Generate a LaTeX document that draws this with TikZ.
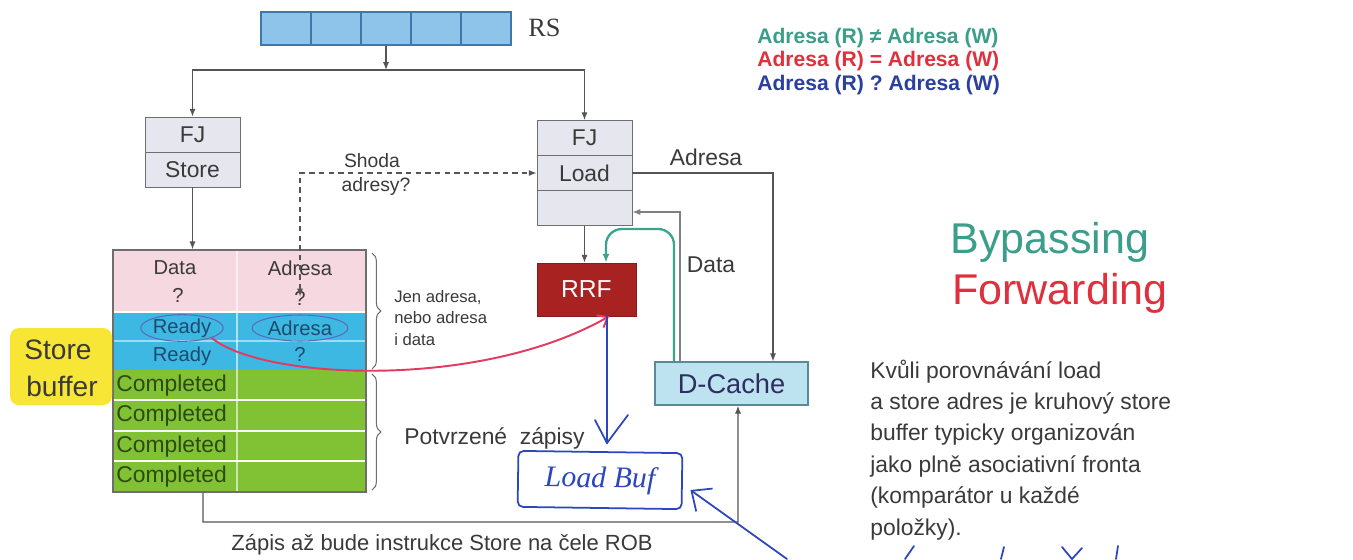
\documentclass[tikz,border=0pt]{standalone}
\usepackage{fontspec}
\setmainfont{Liberation Sans}
\newfontfamily\seriffont{Liberation Serif}
\usetikzlibrary{arrows.meta,decorations.pathreplacing,calc,shapes.geometric}
\definecolor{rsfill}{HTML}{8EC3EA}
\definecolor{rsline}{HTML}{3F78A8}
\definecolor{boxline}{HTML}{6E6E6E}
\definecolor{fjfill}{HTML}{E6E6EF}
\definecolor{darktext}{HTML}{3A3A3A}
\definecolor{pinkc}{HTML}{F6D8E0}
\definecolor{bluec}{HTML}{3DB8E2}
\definecolor{greenc}{HTML}{80C234}
\definecolor{greentext}{HTML}{2E4A12}
\definecolor{bluetext}{HTML}{1E4A6E}
\definecolor{ellc}{HTML}{5C6BB8}
\definecolor{rrffill}{HTML}{A82222}
\definecolor{dcfill}{HTML}{BEE3F0}
\definecolor{dcline}{HTML}{5A8A99}
\definecolor{tealc}{HTML}{3AA58A}
\definecolor{redc}{HTML}{E43A60}
\definecolor{handc}{HTML}{2C46BE}
\definecolor{legteal}{HTML}{3A9E8A}
\definecolor{legred}{HTML}{E0303E}
\definecolor{legblue}{HTML}{2A3FA0}
\definecolor{yellowc}{HTML}{F8E636}
\definecolor{connc}{HTML}{555555}
\tikzset{
  fjbox/.style={draw=boxline, fill=fjfill, minimum width=1.9cm, minimum height=0.7cm, inner sep=0pt, text=darktext, font=\fontsize{13}{15}\selectfont},
  conn/.style={draw=connc, line width=0.7pt, -{Latex[length=4.5pt,width=3.5pt]}},
  sbtext/.style={inner sep=0pt, text=darktext, font=\fontsize{11.5}{13}\selectfont},
  bluet/.style={inner sep=0pt, text=bluetext, font=\fontsize{11.5}{13}\selectfont},
  compl/.style={inner sep=0pt, anchor=west, text=greentext, font=\fontsize{13}{15}\selectfont},
  lbl/.style={inner sep=0pt, text=darktext, font=\fontsize{13}{15}\selectfont},
  legend/.style={inner sep=0pt, anchor=west, font=\bfseries\fontsize{12}{14}\selectfont},
  para/.style={inner sep=0pt, anchor=base west, text=darktext, font=\fontsize{13}{15}\selectfont},
  hand/.style={draw=handc, line width=1pt, line cap=round},
  bracestyle/.style={draw=boxline, line width=0.6pt, decorate, decoration={brace, amplitude=5pt}}
}
\begin{document}
\begin{tikzpicture}[x=0.02cm, y=-0.02cm]
\fill[white] (0,0) rectangle (1353,559);
\useasboundingbox (0,0) rectangle (1353,559);

% RS
\node[draw=rsline, fill=rsfill, minimum width=5.0cm, minimum height=0.66cm, inner sep=0pt, line width=0.8pt] (rs) at (386,28.5) {};
\foreach \x in {311,361,411,461} \draw[rsline, line width=0.8pt] (\x,12) -- (\x,45);
\node[inner sep=0pt, anchor=west, text=darktext, font=\seriffont\fontsize{15}{15}\selectfont] (rslab) at (528,28) {RS};

% FJ boxes
\node[fjbox] (fjs1) at (192.5,134.5) {FJ};
\node[fjbox] (fjs2) at (192.5,169.5) {Store};
\node[fjbox] (fjl1) at (584.5,138) {FJ};
\node[fjbox] (fjl2) at (584.5,173) {Load};
\node[fjbox] (fjl3) at (584.5,208) {};

\coordinate (split) at (386,70);
\draw[conn] (rs.south) -- (split);
\draw[conn] (split) -| (fjs1.north);
\draw[conn] (split) -| (fjl1.north);

% Store buffer
\fill[pinkc] (113,250) rectangle (366,312);
\fill[bluec] (113,312) rectangle (366,370);
\fill[greenc] (113,370) rectangle (366,492);
\foreach \y in {312,400,431,461} \draw[white, line width=1pt] (114,\y) -- (365,\y);
\draw[white, opacity=0.5, line width=0.6pt] (114,341) -- (365,341);
\draw[white, opacity=0.6, line width=0.6pt] (237,251) -- (237,491);
\node[draw=boxline, line width=0.8pt, minimum width=5.06cm, minimum height=4.84cm, inner sep=0pt] (sb) at (239.5,371) {};
\draw[conn] (fjs2.south) -- (fjs2.south |- sb.north);

\node[sbtext] (hdata) at (175,268) {Data};
\node[sbtext] (hadr) at (300,268) {Adresa};
\node[sbtext] (q1) at (178,295) {?};
\node[sbtext] (q2) at (300,298) {?};
\node[bluet, draw=ellc, ellipse, line width=0.6pt, minimum width=1.5cm, minimum height=0.46cm] (r1) at (182,328) {Ready};
\node[bluet, draw=ellc, ellipse, line width=0.6pt, minimum width=1.92cm, minimum height=0.52cm] (a2) at (300,328) {Adresa};
\node[bluet] (r2) at (182,356) {Ready};
\node[bluet] (q3) at (300,354) {?};
\node[compl] (c1) at (116,386) {Completed};
\node[compl] (c2) at (116,416) {Completed};
\node[compl] (c3) at (116,447) {Completed};
\node[compl] (c4) at (116,477) {Completed};

% dashed address compare
\draw[draw=connc, line width=0.7pt, dash pattern=on 3pt off 2.5pt, {Latex[length=4.5pt,width=3.5pt]}-{Latex[length=4.5pt,width=3.5pt]}] ([yshift=-0.12cm]q2.north) |- (fjl2.west);
\node[inner sep=0pt, text=darktext, font=\fontsize{11}{13}\selectfont] (shoda) at (372,161) {Shoda};
\node[inner sep=0pt, text=darktext, font=\fontsize{11}{13}\selectfont] (adresy) at (376,186) {adresy?};

% braces
\draw[bracestyle] (372,253) -- (372,369);
\draw[bracestyle] (372,374) -- (372,490);
\node[inner sep=0pt, anchor=west, align=left, text=darktext, font=\fontsize{9.5}{12}\selectfont] (jen) at (394,318) {Jen adresa,\\nebo adresa\\i data};
\node[inner sep=0pt, anchor=west, text=darktext, font=\fontsize{13}{15}\selectfont] (potv) at (404,438) {Potvrzené\ \ zápisy};

% RRF and D-Cache
\node[fill=rrffill, draw=rrffill!80!black, minimum width=1.98cm, minimum height=1.06cm, inner sep=0pt, text=white!90!pink, font=\fontsize{14}{16}\selectfont] (rrf) at (586.5,289.5) {RRF};
\node[draw=dcline, fill=dcfill, line width=0.8pt, minimum width=3.06cm, minimum height=0.86cm, inner sep=0pt, text=darktext!80!blue, font=\fontsize{15.5}{17}\selectfont] (dc) at (731.5,383.5) {D-Cache};

\draw[conn] (fjl3.south) -- (fjl3.south |- rrf.north);
\draw[conn] (fjl2.east) -| ([xshift=0.83cm]dc.north);
\node[lbl] (adrlab) at (706,157) {Adresa};
\draw[conn, draw=gray] ([xshift=-1.03cm]dc.north) |- ([yshift=-0.08cm]fjl3.east);
\node[lbl] (datalab) at (711,265) {Data};
\coordinate (tk) at (606,229);
\draw[draw=tealc, line width=1.3pt, rounded corners=9pt, -{Latex[length=5pt,width=4pt]}] ([xshift=-1.15cm]dc.north) |- (tk) -- ([xshift=0.39cm]rrf.north);

% bottom write path
\coordinate (bl) at (203,522);
\coordinate (br) at (738,522);
\draw[conn] ([xshift=-0.73cm]sb.south) -- (bl) -- (br) -- (br |- dc.south);
\node[lbl, font=\fontsize{12.5}{15}\selectfont] (zapis) at (442,545) {Zápis až bude instrukce Store na čele ROB};

% red forwarding curve
\draw[draw=redc, line width=1.1pt, -{Straight Barb[length=5pt,width=8pt]}] (r1.south east) .. controls (262,380) and (480,390) .. ([xshift=0.45cm]rrf.south);

% store buffer label
\fill[yellowc, rounded corners=5pt] (10,328) rectangle (112,405);
\node[inner sep=0pt, text=darktext, font=\fontsize{16}{18}\selectfont] (sbl1) at (58,350) {Store};
\node[inner sep=0pt, text=darktext, font=\fontsize{16}{18}\selectfont] (sbl2) at (62,386) {buffer};

% legend
\node[legend, text=legteal] (lg1) at (757,38) {Adresa (R) ≠ Adresa (W)};
\node[legend, text=legred] (lg2) at (757,61) {Adresa (R) = Adresa (W)};
\node[legend, text=legblue] (lg3) at (757,85) {Adresa (R) ? Adresa (W)};

\node[inner sep=0pt, text=legteal, font=\fontsize{24.5}{28}\selectfont] (byp) at (1050,242) {Bypassing};
\node[inner sep=0pt, text=legred, font=\fontsize{24.5}{28}\selectfont] (fwd) at (1060,293) {Forwarding};

\node[para] (p1) at (870,378) {Kvůli porovnávání load};
\node[para] (p2) at (870,409) {a store adres je kruhový store};
\node[para] (p3) at (870,440) {buffer typicky organizován};
\node[para] (p4) at (870,472) {jako plně asociativní fronta};
\node[para] (p5) at (870,503) {(komparátor u každé};
\node[para] (p6) at (870,535) {položky).};

% handwritten additions
\node[hand, rounded corners=3pt, minimum width=3.28cm, minimum height=1.12cm, inner sep=0pt, rotate=-0.8, text=handc, font=\seriffont\itshape\fontsize{17}{19}\selectfont] (lb) at (600,480) {Load Buf};
\coordinate (vt) at (607,443);
\draw[hand] ([xshift=0.41cm]rrf.south) -- (vt);
\draw[hand] (595,420) -- (vt) -- (628,415);
\coordinate (hb) at (787,559);
\draw[hand, -{Straight Barb[length=9pt,width=16pt]}] (hb) -- ([xshift=0.16cm,yshift=0.4cm]lb.south east);
\draw[hand] (905,559) -- (914,546);
\draw[hand] (1004,547) -- (1001,559);
\draw[hand] (1062,547) -- (1072,559) -- (1082,548);
\draw[hand] (1118,546) -- (1116,559);
\end{tikzpicture}
\end{document}
